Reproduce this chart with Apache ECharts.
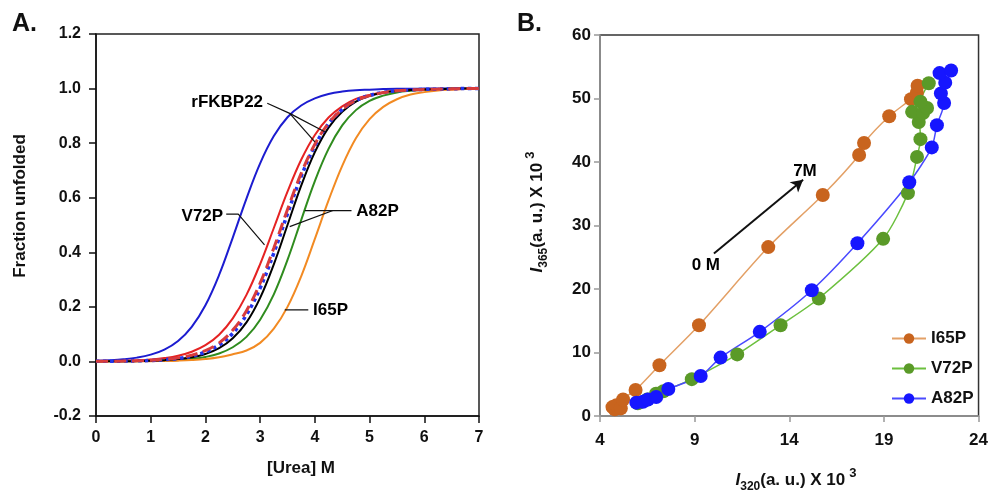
<!DOCTYPE html>
<html><head><meta charset="utf-8">
<script src="https://cdn.jsdelivr.net/npm/echarts@6/dist/echarts.min.js"></script>
<style>html,body{margin:0;padding:0;background:#fff}#c{width:991px;height:491px}</style>
</head><body><div id="c"></div><script>
// ---------- Panel A data ----------
const ureaM = [0,0.25,0.5,0.75,1,1.25,1.5,1.75,2,2.25,2.5,2.75,3,3.25,3.5,3.75,4,4.25,4.5,4.75,5,5.25,5.5,5.75,6,6.25,6.5,6.75,7];
const blueSolid = [0.0025,0.0044,0.0078,0.0139,0.0248,0.0435,0.075,0.127,0.206,0.317,0.454,0.597,0.726,0.826,0.895,0.938,0.964,0.980,0.989,0.994,0.996,0.998,0.999,0.999,1.0,1.0,1.0,1.0,1.0];
const redSolidV72P = [0.0008,0.0014,0.0024,0.0042,0.0072,0.0123,0.0209,0.0356,0.0595,0.098,0.158,0.244,0.357,0.489,0.622,0.739,0.830,0.894,0.935,0.962,0.977,0.987,0.992,0.995,0.997,0.998,0.999,0.999,1.0];
const blueDottedRFKBP22 = [0.0003,0.0006,0.0011,0.002,0.0035,0.0062,0.011,0.0197,0.0346,0.0606,0.103,0.171,0.269,0.397,0.541,0.678,0.790,0.871,0.923,0.956,0.975,0.986,0.992,0.995,0.997,0.998,0.999,1.0,1.0];
const redDashedRFKBP22 = [0.0004,0.0008,0.0014,0.0024,0.0043,0.0075,0.013,0.023,0.040,0.068,0.115,0.186,0.287,0.416,0.557,0.689,0.796,0.873,0.924,0.956,0.974,0.985,0.992,0.995,0.997,0.998,0.999,1.0,1.0];
const blackSolid = [0.0002,0.0004,0.0008,0.0014,0.0026,0.0047,0.0085,0.0152,0.0274,0.0484,0.0847,0.143,0.233,0.356,0.5,0.644,0.767,0.857,0.915,0.952,0.973,0.985,0.991,0.995,0.997,0.998,0.999,1.0,1.0];
const greenSolidA82P = [0.0001,0.0003,0.0005,0.0009,0.0015,0.0028,0.005,0.0091,0.0163,0.0293,0.052,0.090,0.153,0.246,0.372,0.518,0.661,0.779,0.865,0.921,0.955,0.974,0.986,0.992,0.996,0.998,0.999,0.999,1.0];
const orangeI65P = [0.0001,0.0002,0.0003,0.0005,0.0009,0.0016,0.0028,0.0049,0.0086,0.0151,0.0263,0.040,0.068,0.120,0.200,0.312,0.449,0.590,0.717,0.818,0.888,0.933,0.961,0.978,0.987,0.993,0.996,0.998,0.999];
const yTicksA = [-0.2,0,0.2,0.4,0.6,0.8,1.0,1.2];

// annotation leader lines (data coords)
const leadRF1 = [[3.13,0.946],[3.54,0.909],[4.18,0.842]];
const leadRF2 = [[3.54,0.909],[4.00,0.805]];
const leadV72 = [[2.38,0.54],[2.6,0.54],[3.08,0.427]];
const leadA82a = [[4.67,0.553],[3.815,0.553]];
const leadA82b = [[4.33,0.553],[3.54,0.494]];
const leadI65 = [[3.88,0.189],[3.45,0.189]];
const labelsA = [
  {text:'rFKBP22', at:[3.09,0.948], pos:'left'},
  {text:'V72P', at:[2.36,0.533], pos:'left'},
  {text:'A82P', at:[4.72,0.551], pos:'right'},
  {text:'I65P', at:[3.93,0.189], pos:'right'}
];

// ---------- Panel B data ----------
const i65pX = [4.66,4.78,4.87,5.10,5.22,5.88,7.14,9.23,12.89,15.77,17.69,17.95,19.28,20.43,20.74,20.78];
const i65pY = [1.4,1.05,1.7,1.2,2.6,4.1,8.0,14.3,26.6,34.8,41.1,43.0,47.2,49.9,50.9,52.0];
const v72pX = [6.0,6.5,6.96,7.35,8.85,11.25,13.54,15.56,18.96,20.27,20.75,20.93,20.84,20.49,21.07,21.28,20.93,21.37];
const v72pY = [2.0,2.6,3.5,3.9,5.8,9.7,14.3,18.5,27.9,35.1,40.8,43.6,46.3,47.9,47.7,48.5,49.5,52.4];
const a82pX = [5.92,6.27,6.53,6.97,7.61,9.32,10.37,12.44,15.19,17.6,20.34,21.53,21.8,22.18,22.01,22.24,21.94,22.55];
const a82pY = [2.1,2.25,2.6,3.0,4.25,6.3,9.2,13.25,19.8,27.2,36.8,42.3,45.8,49.3,50.8,52.5,54.0,54.4];
const xTicksB = [4,9,14,19,24];
const arrowB = [[10.02,25.6],[14.73,37.2]];
const labelsB = [
  {text:'0 M', at:[9.59,23.7], pos:'inside'},
  {text:'7M', at:[14.1,38.5], pos:'right'}
];

const FF = '"Liberation Sans", Arial, sans-serif';
const zip = (xs, ys) => xs.map((x, i) => [x, ys[i]]);
const curve = (name, ys, color, width, type, z) => ({
  name, type:'line', xAxisIndex:0, yAxisIndex:0, data: zip(ureaM, ys),
  showSymbol:false, symbol:'none', smooth:0.4, z,
  lineStyle:{color, width, type}, silent:true
});
const lead = (pts) => ({type:'line', xAxisIndex:0, yAxisIndex:0, data:pts, symbol:'none', z:10,
  lineStyle:{color:'#111', width:1.2}, silent:true});
const textPt = (o, xi, yi) => ({type:'scatter', xAxisIndex:xi, yAxisIndex:yi, data:[o.at], symbolSize:0, z:12,
  itemStyle:{opacity:1},
  label:{show:true, formatter:o.text, position:o.pos, distance:2, color:'#000', opacity:1, textBorderWidth:0,
    fontSize:17, fontWeight:'bold', fontFamily:FF}, silent:true});
const bSeries = (name, xs, ys, mColor, lColor) => ({
  name, type:'line', xAxisIndex:1, yAxisIndex:1, data: zip(xs, ys), symbol:'circle', symbolSize:14,
  smooth:0.25, itemStyle:{color:mColor}, lineStyle:{color:lColor, width:1.5}
});

const axisTxt = {color:'#111', fontSize:16, fontWeight:'bold', fontFamily:FF};

const option = {
  animation:false,
  backgroundColor:'#fff',
  grid:[
    {left:96, top:34, width:383, height:382, show:true, borderColor:'#222', borderWidth:1.5},
    {left:600, top:35, width:382, height:381, show:true, borderColor:'#333', borderWidth:1.5}
  ],
  xAxis:[
    {gridIndex:0, type:'value', min:0, max:7, interval:1,
     axisLine:{onZero:false, lineStyle:{color:'#111', width:1.5}}, axisTick:{length:7, lineStyle:{color:'#111', width:1.5}},
     axisLabel:Object.assign({margin:14}, axisTxt), splitLine:{show:false}},
    {gridIndex:1, type:'value', min:4, max:24,
     axisLine:{onZero:false, lineStyle:{color:'#999', width:1.5}},
     axisTick:{length:6, customValues:xTicksB, lineStyle:{color:'#999', width:1.5}},
     axisLabel:Object.assign({margin:16, customValues:xTicksB}, axisTxt, {fontSize:17}), splitLine:{show:false}}
  ],
  yAxis:[
    {gridIndex:0, type:'value', min:-0.2, max:1.2, interval:0.2,
     axisLine:{onZero:false, lineStyle:{color:'#111', width:1.5}}, axisTick:{length:7, customValues:yTicksA, lineStyle:{color:'#111', width:1.5}},
     axisLabel:Object.assign({margin:15, customValues:yTicksA, formatter:v => v.toFixed(1)}, axisTxt), splitLine:{show:false}},
    {gridIndex:1, type:'value', min:0, max:60, interval:10,
     axisLine:{onZero:false, lineStyle:{color:'#999', width:1.5}}, axisTick:{length:6, lineStyle:{color:'#999', width:1.5}},
     axisLabel:Object.assign({margin:9}, axisTxt, {fontSize:17}), splitLine:{show:false}}
  ],
  legend:{data:['I65P','V72P','A82P'], orient:'vertical', left:886, top:325, itemWidth:34, itemHeight:13, itemGap:13,
    textStyle:{color:'#111', fontSize:17, fontWeight:'bold', fontFamily:FF}},
  graphic:[
    {type:'text', left:12, top:12, style:{text:'A.', font:'bold 25px '+FF, fill:'#111'}},
    {type:'text', left:517, top:12, style:{text:'B.', font:'bold 25px '+FF, fill:'#111'}},
    {type:'text', x:20, y:206, rotation:Math.PI/2, style:{text:'Fraction unfolded', font:'bold 17px '+FF, fill:'#111', align:'center', verticalAlign:'middle'}},
    {type:'text', x:301, y:468, style:{text:'[Urea] M', font:'bold 17px '+FF, fill:'#111', align:'center', verticalAlign:'middle'}},
    {type:'text', x:537, y:212, rotation:Math.PI/2, style:{
      text:'{i|I}{sub|365}{n|(a. u.) X 10}{sup|3}', align:'center', verticalAlign:'middle', fill:'#111',
      rich:{
        i:{font:'italic bold 17px '+FF, lineHeight:26, verticalAlign:'middle'},
        sub:{font:'bold 12px '+FF, lineHeight:12, verticalAlign:'bottom'},
        n:{font:'bold 17px '+FF, lineHeight:26, verticalAlign:'middle'},
        sup:{font:'bold 13px '+FF, lineHeight:13, verticalAlign:'top', padding:[0,0,0,4]}
      }}},
    {type:'text', x:796, y:480, style:{
      text:'{i|I}{sub|320}{n|(a. u.) X 10}{sup|3}', align:'center', verticalAlign:'middle', fill:'#111',
      rich:{
        i:{font:'italic bold 17px '+FF, lineHeight:26, verticalAlign:'middle'},
        sub:{font:'bold 12px '+FF, lineHeight:12, verticalAlign:'bottom'},
        n:{font:'bold 17px '+FF, lineHeight:26, verticalAlign:'middle'},
        sup:{font:'bold 13px '+FF, lineHeight:13, verticalAlign:'top', padding:[0,0,0,4]}
      }}}
  ],
  series:[
    curve('unlabeled (blue)', blueSolid, '#1c1cd0', 2, 'solid', 2),
    curve('V72P curve', redSolidV72P, '#e52222', 2, 'solid', 2),
    curve('A82P curve', greenSolidA82P, '#2f8c1e', 2, 'solid', 2),
    curve('I65P curve', orangeI65P, '#f28a22', 2, 'solid', 2),
    curve('black curve', blackSolid, '#000', 2, 'solid', 3),
    curve('rFKBP22 dotted', blueDottedRFKBP22, '#2233ee', 3.5, 'dotted', 4),
    curve('rFKBP22 dashed', redDashedRFKBP22, '#d83c3c', 3, 'dashed', 5),
    lead(leadRF1), lead(leadRF2), lead(leadV72), lead(leadA82a), lead(leadA82b), lead(leadI65),
    ...labelsA.map(o => textPt(o, 0, 0)),
    bSeries('I65P', i65pX, i65pY, '#c8641e', '#e3a066'),
    bSeries('V72P', v72pX, v72pY, '#5a9a28', '#6cc03e'),
    Object.assign(bSeries('A82P', a82pX, a82pY, '#1616ff', '#4a4aff'), {
      markLine:{silent:true, symbol:['none','arrow'], symbolSize:[10,12], label:{show:false},
        lineStyle:{color:'#111', width:2, type:'solid'},
        data:[[{coord:arrowB[0]},{coord:arrowB[1]}]]}
    }),
    ...labelsB.map(o => textPt(o, 1, 1))
  ]
};
const chart = echarts.init(document.getElementById('c'), null, {renderer:'canvas'});
chart.setOption(option);
</script></body></html>
